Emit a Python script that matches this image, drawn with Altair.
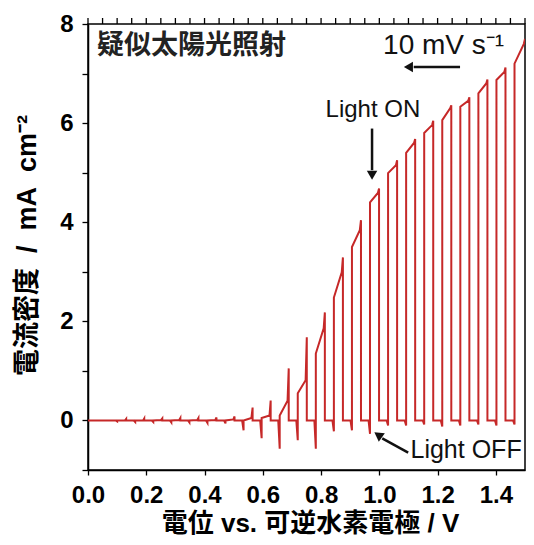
import altair as alt
import pandas as pd

# Chopped-light sweep (1.5 V -> 0 V). Each light-ON pulse, listed from high to low potential.
pulse_left  = [1.464, 1.402, 1.340, 1.278, 1.216, 1.154, 1.092, 1.030, 0.968, 0.906, 0.844, 0.782,
               0.720, 0.658, 0.596, 0.534, 0.472, 0.410, 0.348, 0.286, 0.224, 0.162, 0.100]
pulse_right = [1.500, 1.433, 1.371, 1.309, 1.247, 1.185, 1.123, 1.061, 0.999, 0.937, 0.875, 0.813,
               0.751, 0.689, 0.627, 0.565, 0.503, 0.441, 0.379, 0.317, 0.255, 0.193, 0.131]
on_peak     = [7.70, 7.12, 6.88, 6.52, 6.36, 6.05, 5.68, 5.25, 4.68, 4.04, 3.29, 2.18,
               1.68, 1.05, 0.40, 0.26, 0.08, 0.06, 0.05, 0.05, 0.04, 0.04, 0.03]
on_right    = [7.60, 7.03, 6.80, 6.45, 6.30, 5.96, 5.60, 5.15, 4.59, 3.84, 2.99, 1.86,
               0.81, 0.40, 0.10, 0.05, 0.02, 0.01, 0.01, 0.01, 0.01, 0.00, 0.00]
on_left     = [7.20, 6.87, 6.60, 6.33, 6.06, 5.80, 5.40, 4.99, 4.40, 3.50, 2.48, 1.35,
               0.55, 0.10, 0.05, 0.00, 0.00, 0.00, 0.00, 0.00, 0.00, 0.00, 0.00]
off_dip     = [-0.08, -0.10, -0.08, -0.10, -0.12, -0.08, -0.10, -0.10, -0.27, -0.20, -0.22, -0.57,
               -0.40, -0.57, -0.36, -0.20, -0.06, -0.05, -0.04, -0.04, -0.03, -0.03, -0.02]

x_tick_values = [round(i * 0.05, 2) for i in range(31)]
y_tick_values = [round(-1 + i * 0.5, 1) for i in range(19)]

rows = []
def add(v, j):
    rows.append({"v": v, "j": j, "o": len(rows)})

for i in range(len(pulse_left)):
    R, L = pulse_right[i], pulse_left[i]
    if i > 0:
        add(R, 0.0)
    add(R, on_peak[i])
    add(R - 0.004, on_right[i])
    add(L, on_left[i])
    add(L, off_dip[i])
    add(L - 0.005, 0.0)
add(0.0, 0.0)
df = pd.DataFrame(rows)

LAT = "Liberation Sans"
CJK = "Liberation Sans, 'Noto Sans CJK JP'"

xscale = alt.Scale(domain=[0, 1.5], nice=False, zero=False)
yscale = alt.Scale(domain=[-1, 8], nice=False, zero=False)

line = alt.Chart(df).mark_line(color="#c62828", strokeWidth=2.0, clip=True).encode(
    x=alt.X("v:Q", scale=xscale, axis=alt.Axis(
        values=x_tick_values,
        labelExpr="round(datum.value*20) % 4 == 0 ? format(datum.value, '.1f') : ''",
        grid=False, tickSize=5, tickWidth=1.3, tickColor="black",
        domainColor="black", domainWidth=1.5,
        labelFont=LAT, labelFontSize=24, labelFontWeight="bold", labelColor="black",
        labelPadding=8, labelFlush=False, labelOverlap=False,
        title="電位 vs. 可逆水素電極 / V", titleFont=CJK, titleFontSize=26,
        titleFontWeight="bold", titleColor="black",
        titleX=222, titleY=53, titleBaseline="middle", titleAlign="center")),
    y=alt.Y("j:Q", scale=yscale, axis=alt.Axis(
        values=y_tick_values,
        labelExpr="datum.value % 2 == 0 ? format(datum.value, 'd') : ''",
        grid=False, tickSize=6, tickWidth=1.3, tickColor="black",
        domainColor="black", domainWidth=1.5,
        labelFont=LAT, labelFontSize=24, labelFontWeight="bold", labelColor="black",
        labelPadding=9, labelFlush=False, labelOverlap=False,
        title="電流密度\u00a0 /\u00a0 mA\u00a0 cm⁻²", titleFont=CJK, titleFontSize=27,
        titleFontWeight="bold", titleColor="black",
        titleX=-61, titleY=221, titleAngle=270, titleBaseline="middle", titleAlign="center")),
    order="o:Q",
)

# top frame ticks (mirror of the x ticks), drawn just above the frame
top_ticks = alt.Chart(pd.DataFrame({"v": x_tick_values})).mark_tick(
    color="black", thickness=1.3, size=6, orient="vertical", opacity=1
).encode(x=alt.X("v:Q"), y=alt.value(-3))

# Annotations
ann_text = pd.DataFrame({
    "v": [0.031, 1.013, 0.978, 1.107],
    "j": [7.56, 7.55, 6.26, -0.60],
    "t": ["疑似太陽光照射", "10 mV s⁻¹", "Light ON", "Light OFF"],
})
texts_cjk = alt.Chart(ann_text.iloc[[0]]).mark_text(
    font=CJK, fontSize=27, fontWeight="bold", color="#222", align="left", baseline="middle"
).encode(x="v:Q", y="j:Q", text="t:N")
texts_lat = alt.Chart(ann_text.iloc[[1]]).mark_text(
    font=LAT, fontSize=28, color="#111", align="left", baseline="middle"
).encode(x="v:Q", y="j:Q", text="t:N")
lon = alt.Chart(ann_text.iloc[[2]]).mark_text(
    font=LAT, fontSize=24, color="#111", align="center", baseline="middle"
).encode(x="v:Q", y="j:Q", text="t:N")
loff = alt.Chart(ann_text.iloc[[3]]).mark_text(
    font=LAT, fontSize=25, color="#111", align="left", baseline="middle"
).encode(x="v:Q", y="j:Q", text="t:N")

arrows = pd.DataFrame({
    "v": [1.277, 0.975, 1.099],
    "j": [7.13, 5.89, -0.65],
    "v2": [1.118, 0.975, 1.010],
    "j2": [7.13, 5.05, -0.36],
})
arrow_lines = alt.Chart(arrows).mark_rule(color="#111", strokeWidth=2.5).encode(
    x="v:Q", y="j:Q", x2="v2:Q", y2="j2:Q")

heads = pd.DataFrame({
    "v": [1.105, 0.975, 1.000],
    "j": [7.13, 4.98, -0.31],
    "ang": [270, 180, 305],
})
arrow_heads = alt.Chart(heads).mark_point(shape="triangle", filled=True, color="#111", size=110, opacity=1).encode(
    x="v:Q", y="j:Q", angle=alt.Angle("ang:Q", scale=None))

chart = alt.layer(
    line, top_ticks, texts_cjk, texts_lat, lon, loff, arrow_lines, arrow_heads
).properties(
    width=437, height=446,
    padding={"left": 80, "top": 16, "right": 1, "bottom": 67},
    autosize=alt.AutoSizeParams(type="none"),
    background="white",
).configure_view(stroke="black", strokeWidth=1.5)

chart.save("out.html", embed_options={"renderer": "svg", "actions": False})
